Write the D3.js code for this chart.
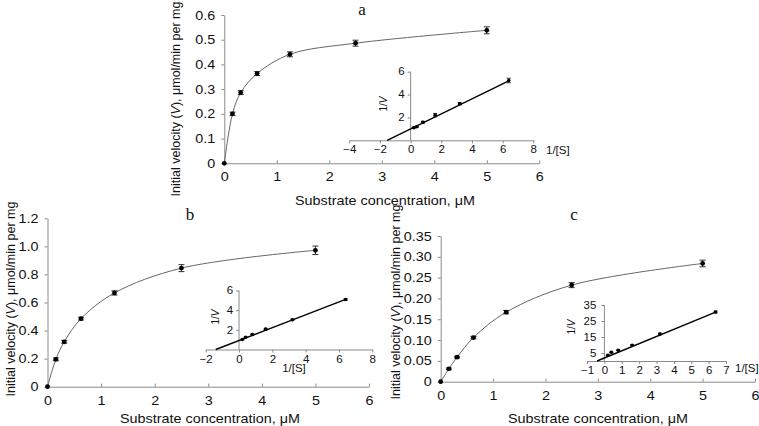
<!DOCTYPE html>
<html><head><meta charset="utf-8">
<script src="https://cdn.jsdelivr.net/npm/d3@7"></script>
<style>
body{margin:0;background:#fff}
svg{display:block}
text{font-family:"Liberation Sans",Arial,sans-serif;fill:#111}
</style>
</head><body>
<svg id="chart" width="759" height="426"></svg>
<script>
// ---------- data ----------
const substrate = [0, 0.156, 0.3125, 0.625, 1.25, 2.5, 5];
const velocityA = [0, 0.2, 0.286, 0.363, 0.441, 0.486, 0.538];
const errorA    = [0, 0.007, 0.008, 0.008, 0.010, 0.012, 0.014];
const velocityB = [0, 0.195, 0.32, 0.485, 0.668, 0.845, 0.972];
const errorB    = [0, 0.010, 0.010, 0.010, 0.015, 0.025, 0.030];
const velocityC = [0, 0.031, 0.059, 0.106, 0.167, 0.232, 0.284];
const errorC    = [0, 0.002, 0.002, 0.003, 0.004, 0.006, 0.008];

const invSubstrate = [0.2, 0.4, 0.8, 1.6, 3.2, 6.4];
const invVelocityA = [1.1, 1.19, 1.58, 2.2, 3.2, 5.23];
const invErrorA    = [0.05, 0.05, 0.08, 0.15, 0.1, 0.2];
const invVelocityB = [1.02, 1.25, 1.53, 2.07, 3.02, 5.09];
const invErrorB    = [0.04, 0.04, 0.05, 0.08, 0.08, 0.1];
const invVelocityC = [3.6, 5.4, 6.7, 9.8, 16.9, 30.6];
const invErrorC    = [0.3, 0.3, 0.3, 0.4, 0.5, 0.6];

const fitXA = [-1.53, 6.4], fitYA = [0, 5.2];
const fitXB = [-1.4, 6.4],  fitYB = [0, 5.1];
const fitXC = [-0.42, 6.4], fitYC = [0, 30.6];

const xTicksMain = [0, 1, 2, 3, 4, 5, 6];
const yTicksA = [0, 0.1, 0.2, 0.3, 0.4, 0.5, 0.6];
const yTickLabelsA = ["0", "0.1", "0.2", "0.3", "0.4", "0.5", "0.6"];
const yTicksB = [0, 0.2, 0.4, 0.6, 0.8, 1.0, 1.2];
const yTickLabelsB = ["0", "0.2", "0.4", "0.6", "0.8", "1.0", "1.2"];
const yTicksC = [0, 0.05, 0.10, 0.15, 0.20, 0.25, 0.30, 0.35];
const yTickLabelsC = ["0", "0.05", "0.10", "0.15", "0.20", "0.25", "0.30", "0.35"];

const insetXTicksA = [-4, -2, 0, 2, 4, 6, 8];
const insetYTicksA = [2, 4, 6];
const insetXTicksB = [-2, 0, 2, 4, 6, 8];
const insetYTicksB = [2, 4, 6];
const insetXTicksC = [-1, 0, 1, 2, 3, 4, 5, 6, 7];
const insetYTicksC = [5, 15, 25, 35];

const panelLetters = ["a", "b", "c"];
const xLabel = "Substrate concentration, μM";

// ---------- drawing ----------
const svg = d3.select("#chart");
const SX = 1.15;           // horizontal stretch of text in the reference
const AXIS = "#8a8a8a";

function fmtTick(d){ return d < 0 ? "\u2212" + Math.abs(d) : String(d); }

function stretch(sel){
  sel.each(function(){
    const t = d3.select(this);
    const x = +t.attr("x") || 0;
    t.attr("x", x / SX).attr("transform", `scale(${SX},1)`);
  });
}

function styleAxis(g, fs){
  g.select(".domain").attr("stroke", AXIS).attr("stroke-width", 1);
  g.selectAll(".tick line").attr("stroke", AXIS);
  g.selectAll(".tick text").attr("font-size", fs).attr("fill", "#111")
    .attr("font-family", '"Liberation Sans", Arial, sans-serif');
  stretch(g.selectAll(".tick text"));
}

function stext(g, str, x, y, fs, anchor){
  return g.append("text").attr("transform", `translate(${x},${y}) scale(${SX},1)`)
    .attr("font-size", fs).attr("text-anchor", anchor || "middle").text(str);
}

function drawPanel(p){
  const g = svg.append("g");
  const x = d3.scaleLinear().domain([0, 6]).range(p.xr);
  const y = d3.scaleLinear().domain([0, p.yMax]).range(p.yr);

  // axes
  const xa = g.append("g").attr("transform", `translate(0,${p.yr[0]})`)
    .call(d3.axisBottom(x).tickValues(xTicksMain).tickFormat(d => String(d))
      .tickSizeInner(-3).tickSizeOuter(0).tickPadding(9));
  styleAxis(xa, 12.5);
  const ya = g.append("g").attr("transform", `translate(${p.xr[0]},0)`)
    .call(d3.axisLeft(y).tickValues(p.yTicks).tickFormat((d, i) => p.yLabels[i])
      .tickSizeInner(3).tickSizeOuter(0).tickPadding(6));
  styleAxis(ya, 12.5);

  // curve
  const pts = substrate.map((s, i) => [s, p.v[i], p.e[i]]);
  g.append("path").datum(pts)
    .attr("d", d3.line().x(d => x(d[0])).y(d => y(d[1])).curve(d3.curveCatmullRom.alpha(0.5)))
    .attr("fill", "none").attr("stroke", "#666").attr("stroke-width", 1);
  // error bars
  const eb = g.append("g").attr("stroke", "#333").attr("stroke-width", 1);
  pts.filter(d => d[2] > 0).forEach(d => {
    const cx = x(d[0]);
    eb.append("line").attr("x1", cx).attr("x2", cx).attr("y1", y(d[1] - d[2])).attr("y2", y(d[1] + d[2]));
    eb.append("line").attr("x1", cx - 3).attr("x2", cx + 3).attr("y1", y(d[1] - d[2])).attr("y2", y(d[1] - d[2]));
    eb.append("line").attr("x1", cx - 3).attr("x2", cx + 3).attr("y1", y(d[1] + d[2])).attr("y2", y(d[1] + d[2]));
  });
  g.selectAll("circle.m").data(pts).join("circle").attr("class", "m")
    .attr("cx", d => x(d[0])).attr("cy", d => y(d[1])).attr("r", 2.4).attr("fill", "#000");

  // labels
  stext(g, xLabel, p.xlab[0], p.xlab[1], 12.5);
  const yl = g.append("text").attr("transform", `translate(${p.ylab[0]},${p.ylab[1]}) rotate(-90)`)
    .attr("font-size", 12.5).attr("text-anchor", "middle");
  yl.append("tspan").text("Initial velocity (");
  yl.append("tspan").attr("font-style", "italic").text("V");
  yl.append("tspan").text("), μmol/min per mg");
  g.append("text").attr("x", p.letter[0]).attr("y", p.letter[1])
    .style("font-family", '"Liberation Serif", "Times New Roman", serif')
    .attr("font-size", 17).attr("text-anchor", "middle").text(p.letterText);

  // inset
  const q = p.inset;
  const ix = d3.scaleLinear().domain([q.xTicks[0], q.xTicks[q.xTicks.length - 1]]).range(q.xr);
  const iy = d3.scaleLinear().domain([0, q.yTicks[q.yTicks.length - 1]]).range(q.yr);
  const ixa = g.append("g").attr("transform", `translate(0,${iy(0)})`)
    .call(d3.axisBottom(ix).tickValues(q.xTicks).tickFormat(fmtTick)
      .tickSizeInner(3).tickSizeOuter(0).tickPadding(3));
  styleAxis(ixa, 10);
  const iya = g.append("g").attr("transform", `translate(${ix(0)},0)`)
    .call(d3.axisLeft(iy).tickValues(q.yTicks).tickFormat(fmtTick)
      .tickSizeInner(3).tickSizeOuter(0).tickPadding(q.ypad));
  iya.select(".domain").attr("d", `M0,${iy(0)}V${iy(q.yTicks[q.yTicks.length - 1])}`);
  styleAxis(iya, 10);

  g.append("path").datum(q.fx.map((v, i) => [v, q.fy[i]]))
    .attr("d", d3.line().x(d => ix(d[0])).y(d => iy(d[1])))
    .attr("stroke", "#000").attr("stroke-width", 1.4).attr("fill", "none");
  const ipts = invSubstrate.map((s, i) => [s, q.v[i], q.e[i]]);
  const ieb = g.append("g").attr("stroke", "#333").attr("stroke-width", 1);
  ipts.forEach(d => {
    const cx = ix(d[0]);
    ieb.append("line").attr("x1", cx).attr("x2", cx).attr("y1", iy(d[1] - d[2])).attr("y2", iy(d[1] + d[2]));
    ieb.append("line").attr("x1", cx - 2).attr("x2", cx + 2).attr("y1", iy(d[1] - d[2])).attr("y2", iy(d[1] - d[2]));
    ieb.append("line").attr("x1", cx - 2).attr("x2", cx + 2).attr("y1", iy(d[1] + d[2])).attr("y2", iy(d[1] + d[2]));
  });
  g.selectAll("circle.im").data(ipts).join("circle").attr("class", "im")
    .attr("cx", d => ix(d[0])).attr("cy", d => iy(d[1])).attr("r", 1.8).attr("fill", "#000");

  stext(g, "1/[S]", q.slab[0], q.slab[1], 10, q.slabAnchor);
  const vl = g.append("text").attr("transform", `translate(${q.vlab[0]},${q.vlab[1]}) rotate(-90)`)
    .attr("font-size", 10).attr("text-anchor", "middle");
  vl.append("tspan").text("1/");
  vl.append("tspan").attr("font-style", "italic").text("V");
}

drawPanel({
  letterText: panelLetters[0], letter: [362, 15],
  xr: [224.3, 539.3], yr: [163.3, 15], yMax: 0.6,
  yTicks: yTicksA, yLabels: yTickLabelsA,
  v: velocityA, e: errorA,
  xlab: [385, 204.5], ylab: [179.5, 99],
  inset: {
    xTicks: insetXTicksA, yTicks: insetYTicksA, xr: [349.3, 533.3], yr: [140.3, 71.7],
    v: invVelocityA, e: invErrorA, fx: fitXA, fy: fitYA, ypad: 3,
    slab: [546, 154], slabAnchor: "start", vlab: [387, 104]
  }
});
drawPanel({
  letterText: panelLetters[1], letter: [190, 220],
  xr: [47.5, 369], yr: [386.7, 218.3], yMax: 1.2,
  yTicks: yTicksB, yLabels: yTickLabelsB,
  v: velocityB, e: errorB,
  xlab: [210, 422.5], ylab: [14.5, 299],
  inset: {
    xTicks: insetXTicksB, yTicks: insetYTicksB, xr: [205.7, 372.3], yr: [349.5, 290.5],
    v: invVelocityB, e: invErrorB, fx: fitXB, fy: fitYB, ypad: 3,
    slab: [294, 372], slabAnchor: "middle", vlab: [219, 317]
  }
});
drawPanel({
  letterText: panelLetters[2], letter: [574, 220],
  xr: [440.7, 755], yr: [381.7, 236], yMax: 0.35,
  yTicks: yTicksC, yLabels: yTickLabelsC,
  v: velocityC, e: errorC,
  xlab: [598, 422.5], ylab: [399.5, 302],
  inset: {
    xTicks: insetXTicksC, yTicks: insetYTicksC, xr: [587, 726], yr: [361, 305],
    v: invVelocityC, e: invErrorC, fx: fitXC, fy: fitYC, ypad: 5,
    slab: [735, 372], slabAnchor: "start", vlab: [575, 327]
  }
});
</script>
</body></html>
